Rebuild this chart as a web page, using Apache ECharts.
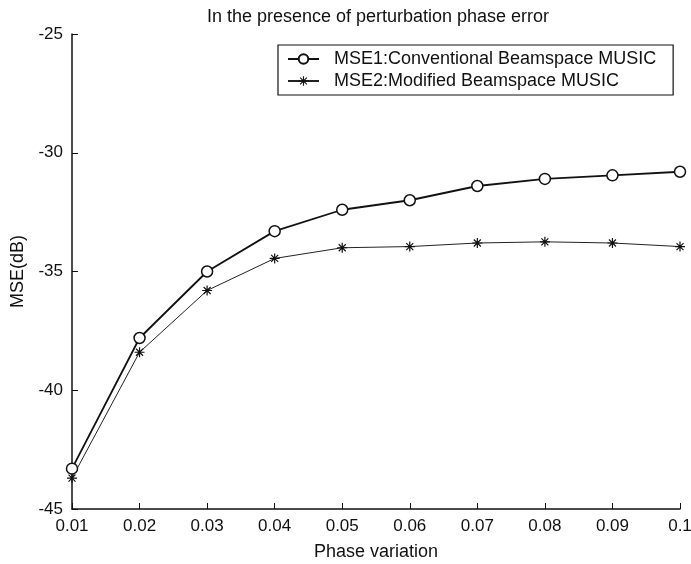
<!DOCTYPE html>
<html>
<head>
<meta charset="utf-8">
<script src="https://cdn.jsdelivr.net/npm/echarts@6/dist/echarts.min.js"></script>
<style>
  html, body { margin: 0; padding: 0; background: #fff; }
  #chart { width: 691px; height: 564px; }
</style>
</head>
<body>
<div id="chart"></div>
<script>
// phase variation values (x)
var phaseVar = [0.01, 0.02, 0.03, 0.04, 0.05, 0.06, 0.07, 0.08, 0.09, 0.1];
// MSE in dB
var mse1 = [-43.3, -37.8, -35.0, -33.3, -32.4, -32.0, -31.4, -31.1, -30.95, -30.8];
var mse2 = [-43.7, -38.4, -35.8, -34.45, -34.0, -33.95, -33.8, -33.75, -33.8, -33.95];
var seriesNames = ['MSE1:Conventional Beamspace MUSIC', 'MSE2:Modified Beamspace MUSIC'];

// asterisk marker made of thin filled bars
var starPath = 'path://M-0.6,-5L0.6,-5L0.6,5L-0.6,5Z' +
  'M-5,-0.6L5,-0.6L5,0.6L-5,0.6Z' +
  'M-3.9,-3.1L-3.1,-3.9L3.9,3.1L3.1,3.9Z' +
  'M3.1,-3.9L3.9,-3.1L-3.1,3.9L-3.9,3.1Z';

function pairs(xs, ys) {
  return xs.map(function (x, i) { return [x, ys[i]]; });
}

var chart = echarts.init(document.getElementById('chart'));
var font = '"Liberation Sans", Arial, sans-serif';

chart.setOption({
  animation: false,
  title: {
    text: 'In the presence of perturbation phase error',
    left: 373,
    textAlign: 'center',
    top: 3,
    textStyle: { fontFamily: font, fontSize: 18, fontWeight: 'normal', color: '#111' }
  },
  legend: {
    data: seriesNames,
    orient: 'vertical',
    left: 278,
    top: 45,
    padding: [3, 17, 3, 9],
    itemGap: 0,
    itemWidth: 31,
    itemHeight: 12,
    borderColor: '#111',
    borderWidth: 1.2,
    textStyle: { fontFamily: font, fontSize: 18, color: '#111', lineHeight: 22, padding: [0, 0, 0, 10] }
  },
  grid: { left: 72, right: 11, top: 34, bottom: 55, containLabel: false, outerBoundsMode: 'none' },
  xAxis: {
    type: 'value',
    min: 0.01,
    max: 0.1,
    interval: 0.01,
    name: 'Phase variation',
    nameLocation: 'middle',
    nameGap: 34,
    nameTextStyle: { fontFamily: font, fontSize: 18, color: '#111' },
    axisLine: { lineStyle: { color: '#111', width: 1.5 } },
    axisTick: { inside: true, length: 6, lineStyle: { color: '#111' } },
    splitLine: { show: false },
    axisLabel: {
      fontFamily: font, fontSize: 17, color: '#111', margin: 9,
      formatter: function (v) { return v > 0.0999 ? '0.1' : v.toFixed(2); }
    }
  },
  yAxis: {
    type: 'value',
    min: -45,
    max: -25,
    interval: 5,
    name: 'MSE(dB)',
    nameLocation: 'middle',
    nameGap: 42,
    nameRotate: 90,
    nameTextStyle: { fontFamily: font, fontSize: 18, color: '#111' },
    axisLine: { show: true, lineStyle: { color: '#111', width: 1.5 } },
    axisTick: { show: true, inside: true, length: 6, lineStyle: { color: '#111' } },
    splitLine: { show: false },
    axisLabel: { fontFamily: font, fontSize: 17, color: '#111', margin: 9 }
  },
  series: [
    {
      name: seriesNames[0],
      type: 'line',
      data: pairs(phaseVar, mse1),
      symbol: 'circle',
      symbolSize: 11,
      showAllSymbol: true,
      lineStyle: { color: '#111', width: 1.8 },
      itemStyle: { color: '#fff', borderColor: '#111', borderWidth: 1.5 }
    },
    {
      name: seriesNames[1],
      type: 'line',
      data: pairs(phaseVar, mse2),
      symbol: starPath,
      symbolSize: 10,
      showAllSymbol: true,
      lineStyle: { color: '#222', width: 1 },
      itemStyle: { color: '#111' }
    }
  ]
});
</script>
</body>
</html>
